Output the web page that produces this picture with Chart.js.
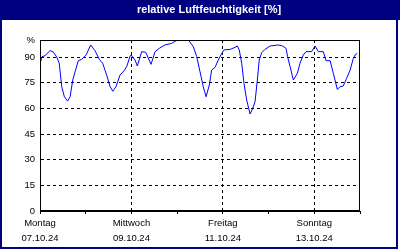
<!DOCTYPE html>
<html>
<head>
<meta charset="utf-8">
<script src="https://cdn.jsdelivr.net/npm/chart.js@4/dist/chart.umd.min.js"></script>
<style>
  html, body { margin: 0; padding: 0; background: #fff; }
  canvas { display: block; }
</style>
</head>
<body>
<canvas id="chart" width="400" height="250"></canvas>
<script>
// hours since Montag 07.10.24 00:00
const hours = [0, 1, 2.6, 5.3, 7, 8.8, 10.1, 11.4, 12.8, 14.5, 15.8, 17.2, 18.4, 20.1, 21.9,
  24.2, 26.6, 28.9, 31.1, 32.9, 35, 36.8, 38.2, 39.9, 42, 44.1, 45.5, 47.3, 47.8,
  49.9, 51.1, 53.4, 55.5, 58.3, 60.4, 62.6, 65.6, 69.1, 71.4, 74.6, 77.9, 80.5, 82.3,
  84, 85.7, 87.2, 88.9, 90.1, 91.9, 93.6, 95.4, 96.6, 99.8, 102.4, 103.6, 104.6,
  105.9, 107.1, 108.5, 110.3, 111.7, 112.9, 114.1, 115.1, 116.4, 118.1, 120.8,
  125.1, 127.4, 129.2, 130, 131.3, 133, 135.1, 136.5, 138.2, 139.7, 142.6, 144.4,
  146.1, 148.7, 150.2, 152.3, 154, 156.1, 157.5, 159.2, 161, 162.8, 164.5, 165.4, 166.6];
const humidity = [85.8, 90.2, 90.8, 93.8, 93, 90, 86.4, 72.7, 66.8, 64.3, 66.8, 76.6, 81.4, 87.9, 88.7,
  91.2, 97.1, 93.7, 88.7, 86.4, 79.5, 72.7, 70, 72.7, 79.5, 82, 84.4, 90.6, 91.2,
  88.3, 84.8, 93.2, 92.8, 85.8, 93.2, 95.1, 97.1, 98, 99.6, 100, 100, 96.1, 90.2,
  81.4, 72.7, 66.8, 73.7, 82.4, 84, 88.3, 92.2, 94.2, 94.5, 95.7, 96.5, 94.2,
  86.4, 74.6, 64.9, 56.7, 60, 63.9, 76.6, 88.3, 92.6, 94.5, 96.5,
  97.1, 96.5, 95.1, 90.2, 84.4, 76.6, 80.5, 86.4, 91.2, 93.2, 93.2, 96.5,
  93.2, 93.2, 87.9, 87.9, 80.5, 71.1, 72.7, 73.1, 77.6, 82.4, 89.3, 91.2, 92.2];

const dayNames = ['Montag', 'Mittwoch', 'Freitag', 'Sonntag'];
const dayDates = ['07.10.24', '09.10.24', '11.10.24', '13.10.24'];
const yTicks = [0, 15, 30, 45, 60, 75, 90, 100];

const NAVY = '#000080';
const FONT = { family: 'Liberation Sans', size: 9.5, lineHeight: 1.58 };

// frame and title bar
const framePlugin = {
  id: 'frame',
  beforeDraw(chart) {
    const c = chart.ctx;
    c.save();
    c.fillStyle = '#fff';
    c.fillRect(0, 0, chart.width, chart.height);
    c.fillStyle = NAVY;
    c.fillRect(0, 0, 400, 20);
    c.restore();
  },
  afterDraw(chart) {
    const c = chart.ctx;
    const a = chart.chartArea;
    c.save();
    c.strokeStyle = '#000';
    c.lineWidth = 1;
    c.strokeRect(Math.round(a.left) + 0.5, Math.round(a.top) + 0.5,
      Math.round(a.right - a.left) - 1, Math.round(a.bottom - a.top) - 1);
    c.fillStyle = NAVY;
    c.fillRect(0, 20, 2, 229);
    c.fillRect(0, 247, 398, 2);
    c.fillRect(396, 20, 2, 229);
    c.restore();
  }
};

new Chart(document.getElementById('chart'), {
  type: 'line',
  data: {
    datasets: [{
      data: hours.map((h, i) => ({ x: h, y: humidity[i] })),
      borderColor: '#0000ff',
      borderWidth: 1,
      pointRadius: 0,
      tension: 0,
      fill: false
    }]
  },
  options: {
    responsive: false,
    animation: false,
    devicePixelRatio: 1,
    layout: { padding: { left: 18, right: 0, top: 0, bottom: 0 } },
    plugins: {
      legend: { display: false },
      tooltip: { enabled: false },
      title: {
        display: true,
        text: 'relative Luftfeuchtigkeit [%]',
        color: '#fff',
        font: { family: 'Liberation Sans', size: 11, weight: 'bold', lineHeight: 1.2 },
        padding: { top: 3, bottom: 23.8 }
      }
    },
    scales: {
      x: {
        type: 'linear',
        min: 0,
        max: 168,
        afterBuildTicks(scale) {
          scale.ticks = [0, 24, 48, 72, 96, 120, 144, 168].map(v => ({ value: v }));
        },
        afterFit(scale) { scale.height = 39; },
        grid: {
          color: ctx => (ctx.tick && ctx.tick.value % 48 === 0 && ctx.tick.value > 0 && ctx.tick.value < 168) ? '#000' : 'rgba(0,0,0,0)',
          tickColor: '#000',
          tickLength: 3,
          lineWidth: 1
        },
        border: { display: true, color: '#000', width: 1, dash: [3, 3] },
        ticks: {
          autoSkip: false,
          maxRotation: 0,
          padding: 2,
          color: '#000',
          font: FONT,
          callback: v => (v % 48 === 0 && v < 168) ? [dayNames[v / 48], dayDates[v / 48]] : ''
        }
      },
      y: {
        min: 0,
        max: 100,
        afterBuildTicks(scale) {
          scale.ticks = yTicks.map(v => ({ value: v }));
        },
        afterFit(scale) { scale.width = 22; },
        grid: {
          color: '#000',
          drawTicks: false,
          lineWidth: 1
        },
        border: { display: true, color: '#000', width: 1, dash: [3, 3] },
        ticks: {
          padding: 5,
          color: '#000',
          font: FONT,
          callback: v => v === 100 ? '%' : String(v)
        }
      },
      // empty right-hand spacer so the plot ends at x=360
      yRight: {
        position: 'right',
        min: 0,
        max: 100,
        afterFit(scale) { scale.width = 40; },
        grid: { display: false },
        border: { display: false },
        ticks: { display: false }
      }
    }
  },
  plugins: [framePlugin]
});
</script>
</body>
</html>
